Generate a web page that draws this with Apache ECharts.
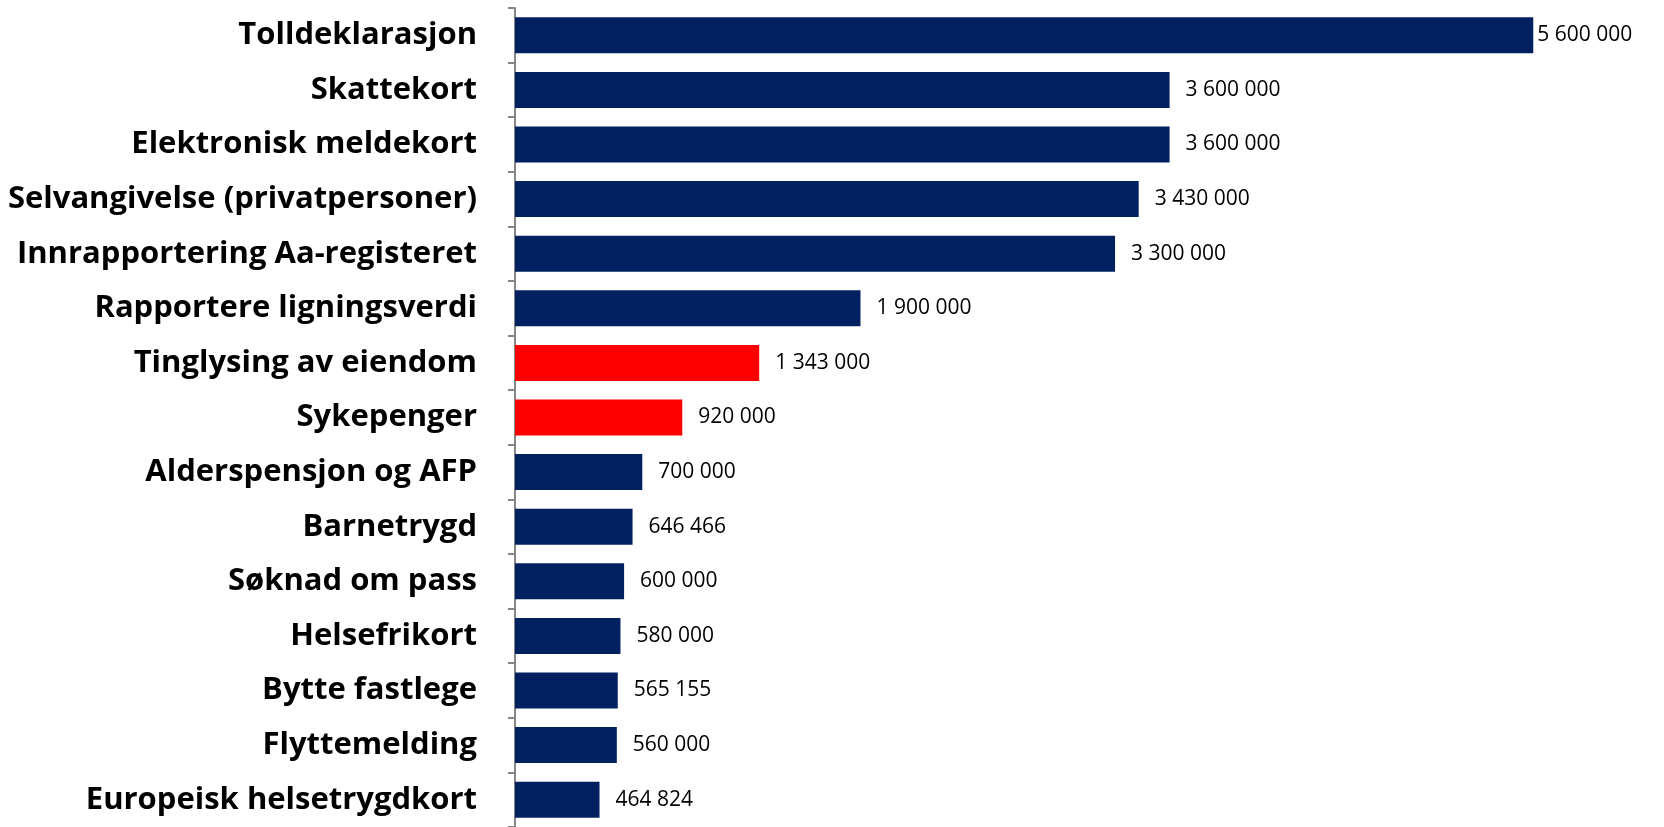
<!DOCTYPE html>
<html><head><meta charset="utf-8">
<script src="https://cdn.jsdelivr.net/npm/echarts@6/dist/echarts.min.js"></script>
<style>html,body{margin:0;padding:0;background:#fff}#c{width:1664px;height:827px}</style>
</head><body><div id="c"></div>
<script>
var categories = ["Tolldeklarasjon","Skattekort","Elektronisk meldekort","Selvangivelse (privatpersoner)","Innrapportering Aa-registeret","Rapportere ligningsverdi","Tinglysing av eiendom","Sykepenger","Alderspensjon og AFP","Barnetrygd","Søknad om pass","Helsefrikort","Bytte fastlege","Flyttemelding","Europeisk helsetrygdkort"];
var values = [5600000,3600000,3600000,3430000,3300000,1900000,1343000,920000,700000,646466,600000,580000,565155,560000,464824];
var highlighted = ["Tinglysing av eiendom","Sykepenger"];

function fmt(v){return String(v).replace(/\B(?=(\d{3})+(?!\d))/g,' ');}
var data = values.map(function(v,i){
  var item = {value:v, itemStyle:{color: highlighted.indexOf(categories[i])>=0 ? '#FF0000' : '#002060'}};
  if(i===0) item.label = {distance:4};
  return item;
});
var chart = echarts.init(document.getElementById('c'));
chart.setOption({
  animation:false,
  grid:{left:515,right:58,top:8,bottom:-1,containLabel:false},
  xAxis:{type:'value',min:0,max:6000000,show:false},
  yAxis:{type:'category',data:categories,inverse:true,
    axisLine:{show:true,lineStyle:{color:'#868686',width:2}},
    axisTick:{show:true,length:7,lineStyle:{color:'#868686',width:2}},
    axisLabel:{margin:38,color:'#000',fontWeight:'bold',fontSize:31,fontFamily:'Open Sans, sans-serif'}
  },
  series:[{type:'bar',data:data,barWidth:'66%',
    label:{show:true,position:'right',distance:16,color:'#000',fontSize:21,fontFamily:'Open Sans, sans-serif',formatter:function(p){return fmt(p.value);}}
  }]
});
</script></body></html>
